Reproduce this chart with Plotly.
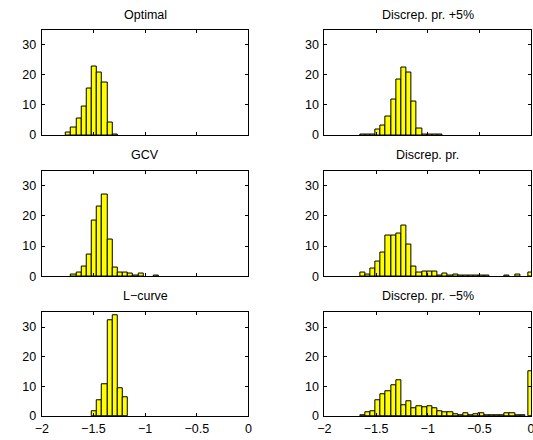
import plotly.graph_objects as go

# ---------------- data ----------------
# bin centres (left column panels share one grid, right column another)
left_centers = [-1.74, -1.69, -1.64, -1.59, -1.54, -1.49, -1.44, -1.39, -1.34,
                -1.29, -1.24, -1.19, -1.14, -1.09, -1.04, -0.99, -0.94, -0.89]
right_centers = [-1.63, -1.58, -1.53, -1.48, -1.43, -1.38, -1.33, -1.28, -1.23,
                 -1.18, -1.13, -1.08, -1.03, -0.98, -0.93, -0.88, -0.83, -0.78,
                 -0.73, -0.68, -0.63, -0.58, -0.53, -0.48, -0.43, -0.38, -0.33,
                 -0.28, -0.23, -0.18, -0.13, -0.08, 0.0]

# None = empty bin
optimal = [0.8, 2.4, 5.5, 9.5, 15.5, 22.6, 20.7, 17.3, 4.25, 0.2,
           None, None, None, None, None, None, None, None]
gcv = [None, 0.4, 1.1, 3.1, 7.2, 18.6, 23.0, 27.0, 12.1, 2.8,
       1.2, 1.2, 0.8, 0.3, 0.8, None, None, 0.3]
lcurve = [None, None, None, None, None, 1.6, 5.2, 10.8, 32.2, 34.0,
          9.5, 6.3, None, None, None, None, None, None]

discrep_p5 = [0.3, 0.05, 0.05, 1.8, 3.2, 6.0, 11.8, 18.4, 22.5, 20.7,
              11.3, 2.2, 0.05, 0.05, 0.05, 0.1, None, None, None, None,
              None, None, None, None, None, None, None, None, None, None,
              None, None, None]
discrep = [1.1, 0.65, 2.5, 4.9, 7.9, 13.4, 13.4, 14.1, 16.7, 10.5,
           3.3, 1.1, 1.5, 1.7, 1.4, 0.2, 1.0, 0.2, 0.5, 0.3,
           0.2, 0.2, 0.2, 0.3, 0.1, None, None, None, 0.3, None,
           0.5, None, 1.2]
discrep_m5 = [0.2, 1.1, 1.5, 5.2, 7.4, 8.4, 10.4, 12.0, 3.6, 4.9,
              2.7, 3.4, 2.8, 3.4, 2.7, 1.6, 1.1, 1.4, 0.5, 0.2,
              0.8, 0.4, 0.5, 0.8, 0.1, 0.4, 0.2, 0.2, 0.8, 0.8,
              0.1, 0.2, 15.0]

titles = ["Optimal", "Discrep. pr. +5%", "GCV", "Discrep. pr.",
          "L\u2212curve", "Discrep. pr. \u22125%"]
x_ticks = [-2, -1.5, -1, -0.5, 0]
y_ticks = [0, 10, 20, 30]

panels = [
    (left_centers, optimal), (right_centers, discrep_p5),
    (left_centers, gcv), (right_centers, discrep),
    (left_centers, lcurve), (right_centers, discrep_m5),
]

# ---------------- layout geometry (pixels) ----------------
W, H = 537, 440
col_px = [(35.5, 246.5), (324.0, 535.0)]
row_px = [(30.0, 137.3), (173.3, 280.7), (317.3, 422.7)]
title_y = [15, 158, 301]

fig = go.Figure()
layout = dict(
    width=W, height=H,
    margin=dict(l=0, r=0, t=0, b=0),
    paper_bgcolor="white", plot_bgcolor="white",
    showlegend=False, bargap=0,
    font=dict(family="Liberation Sans, Arial, sans-serif", size=12.5, color="black"),
)
annotations = []

for i, (xs, ys) in enumerate(panels):
    r, c = divmod(i, 2)
    n = i + 1
    xa = "x" if n == 1 else f"x{n}"
    ya = "y" if n == 1 else f"y{n}"
    fig.add_trace(go.Bar(
        x=xs, y=ys, width=0.05, xaxis=xa, yaxis=ya,
        marker=dict(color="#ffff00", line=dict(color="black", width=1)),
        hoverinfo="x+y",
    ))
    x0, x1 = col_px[c]
    y0, y1 = row_px[r]
    common = dict(showline=True, linecolor="black", linewidth=1, mirror="ticks",
                  ticks="inside", ticklen=3, tickcolor="black", tickwidth=1,
                  showgrid=False, zeroline=False)
    layout["xaxis" if n == 1 else f"xaxis{n}"] = dict(
        domain=[x0 / W, x1 / W], range=[-2, 0], tickvals=x_ticks,
        showticklabels=(r == 2), anchor=ya, ticklabelstandoff=1, **common)
    layout["yaxis" if n == 1 else f"yaxis{n}"] = dict(
        domain=[1 - y1 / H, 1 - y0 / H], range=[0, 35], tickvals=y_ticks,
        anchor=xa, ticklabelstandoff=2, **common)
    annotations.append(dict(
        text=titles[i], xref="paper", yref="paper",
        x=(x0 + x1) / 2 / W, y=1 - title_y[r] / H,
        xanchor="center", yanchor="middle", showarrow=False,
        font=dict(size=12.5, color="black")))

layout["annotations"] = annotations
fig.update_layout(**layout)

fig.write_html("out.html",
               post_script="document.body.style.overflow='hidden';document.documentElement.style.overflow='hidden';")
